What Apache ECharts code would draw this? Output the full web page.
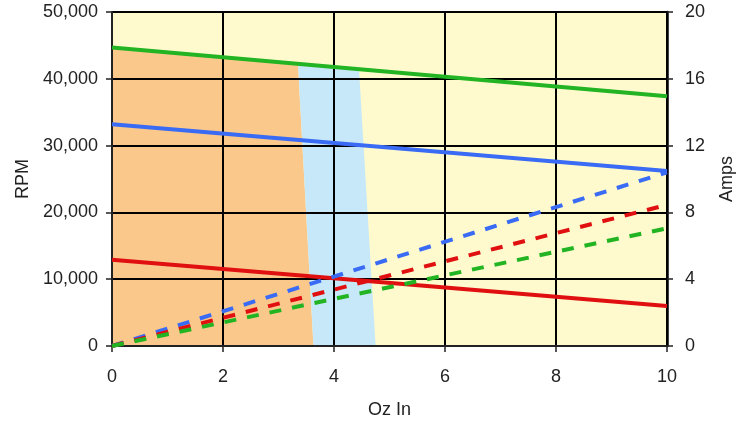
<!DOCTYPE html>
<html>
<head>
<meta charset="utf-8">
<script src="https://cdn.jsdelivr.net/npm/echarts@6/dist/echarts.min.js"></script>
<style>
html,body{margin:0;padding:0;background:#fff;}
#chart{width:746px;height:421px;}
</style>
</head>
<body>
<div id="chart"></div>
<script>
// ---- data ----
var xEnds = [0, 10];
var rpmGreen = [44700, 37400];
var rpmBlue = [33200, 26200];
var rpmRed = [12900, 6000];
var ampsBlue = [0, 10.4];
var ampsRed = [0, 8.45];
var ampsGreen = [0, 7.05];
var orangeRegion = [[0, 0], [0, 44700], [3.35, 42250], [3.63, 0]];
var blueRegion = [[3.35, 42250], [4.45, 41450], [4.75, 0], [3.63, 0]];
var xTicks = [0, 2, 4, 6, 8, 10];
var rpmTicks = [0, 10000, 20000, 30000, 40000, 50000];
var ampTicks = [0, 4, 8, 12, 16, 20];

function pairs(xs, ys) { return xs.map(function (x, i) { return [x, ys[i]]; }); }

function polySeries(points, color) {
  return {
    type: 'custom',
    z: 1,
    silent: true,
    xAxisIndex: 0, yAxisIndex: 0,
    data: [0],
    renderItem: function (params, api) {
      return {
        type: 'polygon',
        shape: { points: points.map(function (p) { return api.coord(p); }) },
        style: { fill: color, stroke: null }
      };
    }
  };
}

var font = 'Liberation Sans, Arial, sans-serif';
var lblStyle = { fontFamily: font, fontSize: 18, color: '#222' };
var nameStyle = { fontFamily: font, fontSize: 18, color: '#222' };

var chart = echarts.init(document.getElementById('chart'), null, { renderer: 'canvas' });
chart.setOption({
  animation: false,
  backgroundColor: '#ffffff',
  grid: {
    left: 112, right: 79, top: 12, bottom: 75,
    containLabel: false, outerBoundsMode: 'none',
    show: true, backgroundColor: '#FFFACD', borderWidth: 0
  },
  xAxis: {
    type: 'value', min: xTicks[0], max: xTicks[xTicks.length - 1], interval: 2,
    z: 1.5,
    name: 'Oz In', nameLocation: 'middle', nameGap: 55,
    nameTextStyle: nameStyle,
    axisLine: { show: true, lineStyle: { color: '#222', width: 2 } },
    axisTick: { show: true, inside: false, length: 6, lineStyle: { color: '#222', width: 1.5 } },
    axisLabel: Object.assign({ margin: 22 }, lblStyle),
    splitLine: { show: true, lineStyle: { color: '#000', width: 2 } }
  },
  yAxis: [{
    type: 'value', min: rpmTicks[0], max: rpmTicks[rpmTicks.length - 1], interval: 10000,
    position: 'left', z: 1.5,
    name: 'RPM', nameLocation: 'middle', nameGap: 79, nameRotate: 90,
    nameTextStyle: nameStyle,
    axisLine: { show: true, lineStyle: { color: '#222', width: 2 } },
    axisTick: { show: true, inside: false, length: 6, lineStyle: { color: '#222', width: 1.5 } },
    axisLabel: Object.assign({ margin: 14, formatter: function (v) { return v.toLocaleString('en-US'); } }, lblStyle),
    splitLine: { show: true, lineStyle: { color: '#000', width: 2 } }
  }, {
    type: 'value', min: ampTicks[0], max: ampTicks[ampTicks.length - 1], interval: 4,
    position: 'right', z: 1.5,
    name: 'Amps', nameLocation: 'middle', nameGap: 51, nameRotate: 90,
    nameTextStyle: nameStyle,
    axisLine: { show: true, lineStyle: { color: '#000', width: 2.5 } },
    axisTick: { show: true, inside: false, length: 6, lineStyle: { color: '#222', width: 1.5 } },
    axisLabel: Object.assign({ margin: 18 }, lblStyle),
    splitLine: { show: false }
  }],
  series: [
    polySeries(orangeRegion, '#FBC88C'),
    polySeries(blueRegion, '#C7E8F8'),
    { type: 'line', yAxisIndex: 0, z: 2, data: pairs(xEnds, rpmGreen), symbol: 'none', lineStyle: { color: '#22B422', width: 4 } },
    { type: 'line', yAxisIndex: 0, z: 2, data: pairs(xEnds, rpmBlue), symbol: 'none', lineStyle: { color: '#3A6BF5', width: 4 } },
    { type: 'line', yAxisIndex: 0, z: 2, data: pairs(xEnds, rpmRed), symbol: 'none', lineStyle: { color: '#E01010', width: 4 } },
    { type: 'line', yAxisIndex: 1, z: 2, data: pairs(xEnds, ampsBlue), symbol: 'none', lineStyle: { color: '#3A6BF5', width: 4, type: [12, 11] } },
    { type: 'line', yAxisIndex: 1, z: 2, data: pairs(xEnds, ampsRed), symbol: 'none', lineStyle: { color: '#E01010', width: 4, type: [12, 11] } },
    { type: 'line', yAxisIndex: 1, z: 2, data: pairs(xEnds, ampsGreen), symbol: 'none', lineStyle: { color: '#22B422', width: 4, type: [12, 11] } }
  ]
});
</script>
</body>
</html>
